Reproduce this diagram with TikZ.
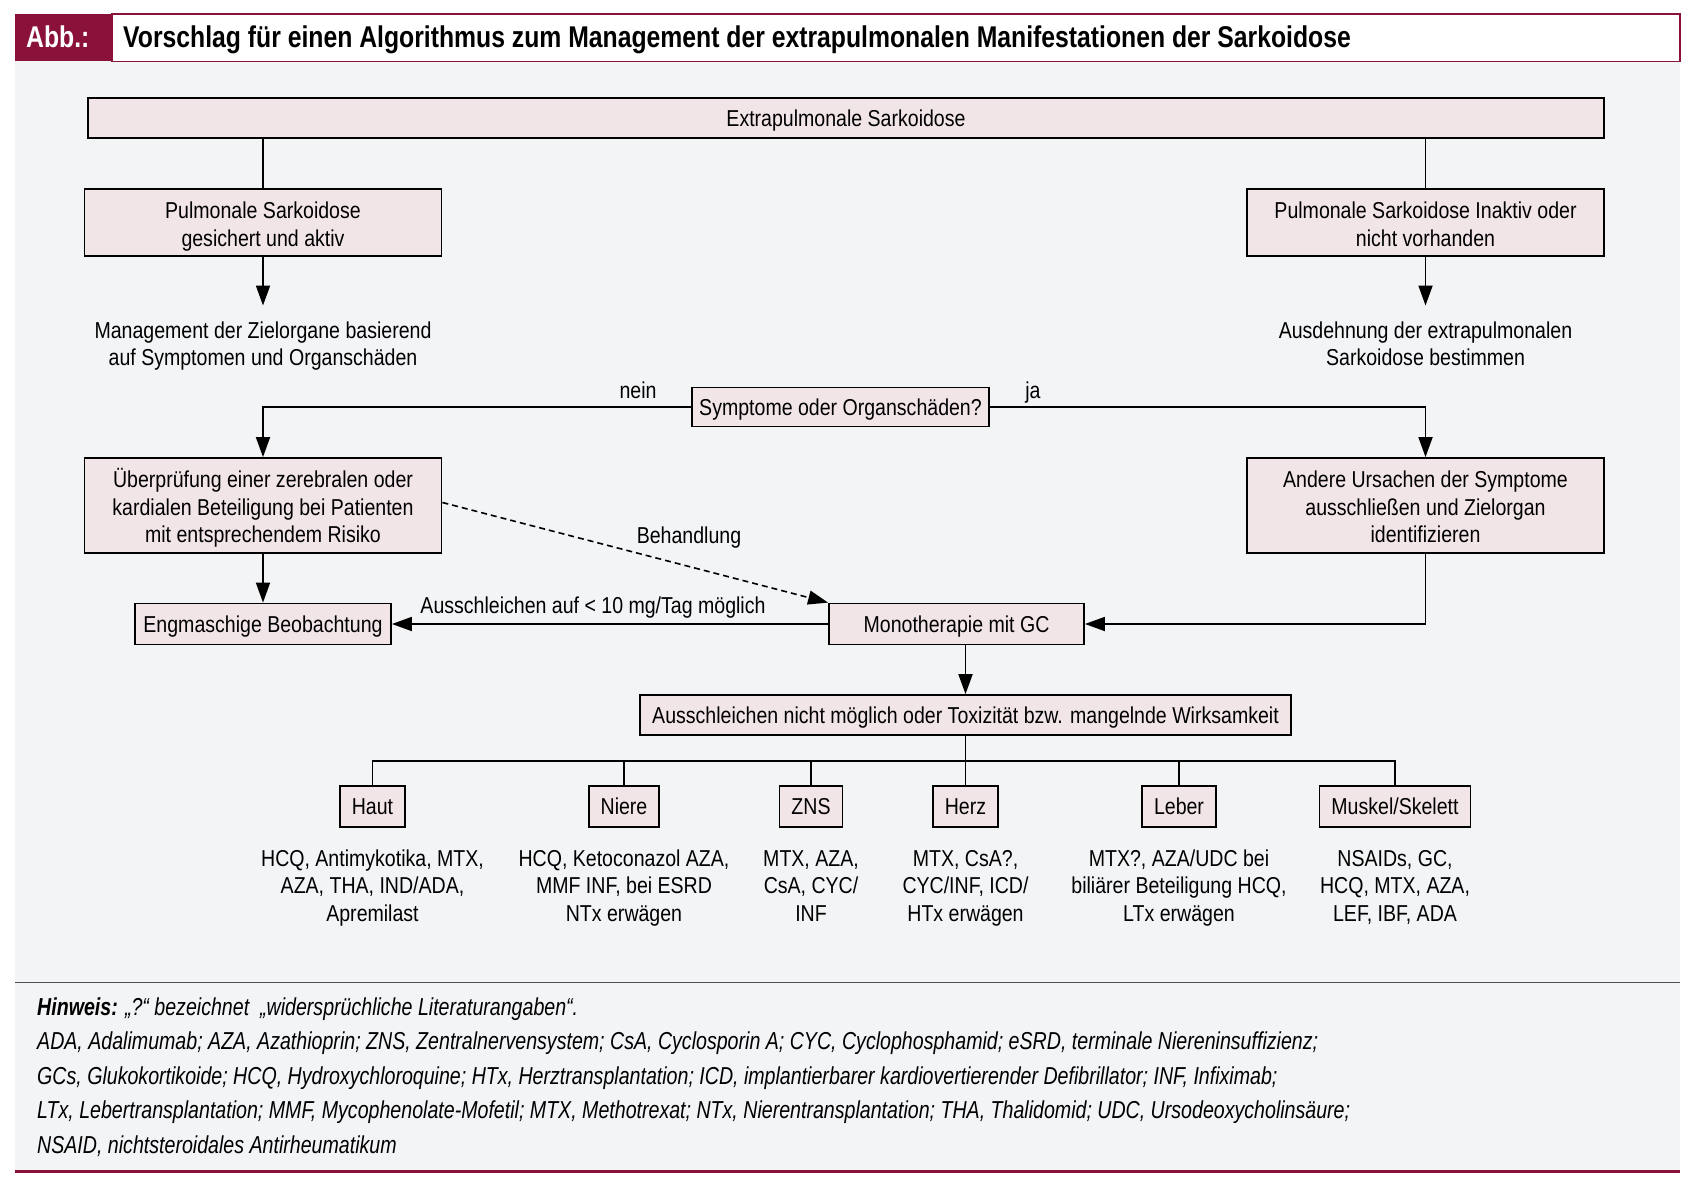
\documentclass[tikz,border=0pt]{standalone}
\usepackage{fontspec}
\setmainfont{Liberation Sans}[FakeStretch=0.85]
\newfontfamily\titlefont{Liberation Sans}[FakeStretch=0.825]
\newfontfamily\notefont{Liberation Sans}[FakeStretch=0.80]
\usetikzlibrary{arrows.meta}
\definecolor{bgray}{RGB}{243,244,246}
\definecolor{boxfill}{RGB}{242,229,232}
\definecolor{abbred}{RGB}{138,18,58}
\definecolor{seplin}{RGB}{80,80,80}
\newcommand{\mainfs}{\fontsize{23}{27.5}\selectfont}
\newcommand{\notefs}{\notefont\fontsize{24.5}{34.4}\selectfont\itshape}
\newcommand{\sx}{\rule[-4.8pt]{0pt}{26.1pt}}
\newcommand{\sxa}{\rule{0pt}{24.3pt}}
\tikzset{
  box/.style={draw=black, line width=1.8pt, fill=boxfill, align=center, inner sep=0pt, font=\mainfs,
    execute at begin node=\sx},
  obox/.style={draw=black, line width=1.8pt, fill=boxfill, align=center, inner xsep=12pt, inner ysep=0pt, minimum height=41pt, font=\mainfs,
    execute at begin node=\sx},
  txt/.style={align=center, inner sep=0pt, font=\mainfs, execute at begin node=\sx},
  conn/.style={line width=1.8pt},
  arr/.style={conn, -{Triangle[length=20pt,width=14pt]}},
  notel/.style={anchor=base west, inner sep=0pt, font=\notefs}
}
\begin{document}
\begin{tikzpicture}[x=1pt,y=-1pt]
\useasboundingbox (0,0) rectangle (1693,1188);
% background and header
\fill[bgray] (15,61.5) rectangle (1680,1171.5);
\fill[abbred] (15,14) rectangle (112,61.5);
\draw[abbred, line width=1.2pt, fill=white] (112,14) rectangle (1680,61.5);
\draw[seplin, line width=1.5pt] (15,982.5) -- (1680,982.5);
\draw[abbred, line width=3pt] (15,1171.5) -- (1680,1171.5);
\node[anchor=base west, inner sep=0pt, text=white, font=\titlefont\bfseries\fontsize{30}{34}\selectfont] (abb) at (26,48) {Abb.:};
\node[anchor=base west, inner sep=0pt, font=\titlefont\bfseries\fontsize{30}{34}\selectfont] (title) at (123,48) {Vorschlag für einen Algorithmus zum Management der extrapulmonalen Manifestationen der Sarkoidose};
% nodes
\node[box, minimum width=1516pt, minimum height=40pt] (top) at (846,118) {Extrapulmonale Sarkoidose};
\node[box, minimum width=357pt, minimum height=67pt] (pa) at (263,222.5) {\sxa Pulmonale Sarkoidose\\gesichert und aktiv\sx};
\node[box, minimum width=357pt, minimum height=67pt] (pi) at (1425.5,222.5) {\sxa Pulmonale Sarkoidose Inaktiv oder\\nicht vorhanden\sx};
\node[txt] (mgmt) at (263,342) {\sxa Management der Zielorgane basierend\\auf Symptomen und Organschäden\sx};
\node[txt] (ausd) at (1425.5,342) {\sxa Ausdehnung der extrapulmonalen\\Sarkoidose bestimmen\sx};
\coordinate (mgmtin) at (263,305.5);
\coordinate (ausdin) at (1425.5,305.5);
\node[box, minimum width=297pt, minimum height=39pt] (symp) at (840.5,407) {Symptome oder Organschäden?};
\node[txt] (nein) at (638,390) {nein};
\node[txt] (ja) at (1033,390) {ja};
\node[box, minimum width=357pt, minimum height=95pt] (uber) at (263,505.5) {\sxa Überprüfung einer zerebralen oder\\kardialen Beteiligung bei Patienten\\mit entsprechendem Risiko\sx};
\node[box, minimum width=357pt, minimum height=95pt] (andere) at (1425.5,505.5) {\sxa Andere Ursachen der Symptome\\ausschließen und Zielorgan\\identifizieren\sx};
\node[box, minimum width=256pt, minimum height=41pt] (eng) at (263,624) {Engmaschige Beobachtung};
\node[box, minimum width=255pt, minimum height=41pt] (mono) at (956.5,624) {Monotherapie mit GC};
\node[txt] (behand) at (689,535.5) {Behandlung};
\node[txt] (ausl) at (593,605) {Ausschleichen auf < 10 mg/Tag möglich};
\node[box, minimum width=651pt, minimum height=40pt] (ausch) at (965.5,715) {Ausschleichen nicht möglich oder Toxizität bzw. mangelnde Wirksamkeit};
\coordinate (bus) at (965.5,761);
\node[obox] (haut) at (372.5,806.5) {Haut};
\node[obox] (niere) at (624,806.5) {Niere};
\node[obox] (zns) at (811,806.5) {ZNS};
\node[obox] (herz) at (965.5,806.5) {Herz};
\node[obox] (leber) at (1179,806.5) {Leber};
\node[obox] (musk) at (1395,806.5) {Muskel/Skelett};
\node[txt] (dhaut) at (372.5,884) {\sxa HCQ, Antimykotika, MTX,\\AZA, THA, IND/ADA,\\Apremilast\sx};
\node[txt] (dniere) at (624,884) {\sxa HCQ, Ketoconazol AZA,\\MMF INF, bei ESRD\\NTx erwägen\sx};
\node[txt] (dzns) at (811,884) {\sxa MTX, AZA,\\CsA, CYC/\\INF\sx};
\node[txt] (dherz) at (965.5,884) {\sxa MTX, CsA?,\\CYC/INF, ICD/\\HTx erwägen\sx};
\node[txt] (dleber) at (1179,884) {\sxa MTX?, AZA/UDC bei\\biliärer Beteiligung HCQ,\\LTx erwägen\sx};
\node[txt] (dmusk) at (1395,884) {\sxa NSAIDs, GC,\\HCQ, MTX, AZA,\\LEF, IBF, ADA\sx};
% connectors
\draw[conn] (top.south -| pa.north) -- (pa.north);
\draw[conn] (top.south -| pi.north) -- (pi.north);
\draw[arr] (pa.south) -- (mgmtin);
\draw[arr] (pi.south) -- (ausdin);
\draw[arr] (symp.west) -- (symp.west -| uber.north) -- (uber.north);
\draw[arr] (symp.east) -- (symp.east -| andere.north) -- (andere.north);
\draw[arr] (uber.south) -- (eng.north);
\draw[arr] (mono.west) -- (eng.east);
\draw[arr] (andere.south) |- (mono.east);
\draw[arr, line width=1.6pt, dash pattern=on 6pt off 4pt] ([yshift=3pt]uber.east) -- (mono.north west);
\draw[arr] (mono.south -| ausch.north) -- (ausch.north);
\draw[conn] (ausch.south) -- (bus);
\draw[conn] (haut.north) -- (haut.north |- bus) -- (musk.north |- bus) -- (musk.north);
\draw[conn] (niere.north) -- (niere.north |- bus);
\draw[conn] (zns.north) -- (zns.north |- bus);
\draw[conn] (herz.north) -- (herz.north |- bus);
\draw[conn] (leber.north) -- (leber.north |- bus);
% footnote
\node[notel] (n1) at (37,1015.5) {\textbf{Hinweis:} „?“ bezeichnet\ \ „widersprüchliche Literaturangaben“.};
\node[notel] (n2) at (37,1049.9) {ADA, Adalimumab; AZA, Azathioprin; ZNS, Zentralnervensystem; CsA, Cyclosporin A; CYC, Cyclophosphamid; eSRD, terminale Niereninsuffizienz;};
\node[notel] (n3) at (37,1084.3) {GCs, Glukokortikoide; HCQ, Hydroxychloroquine; HTx, Herztransplantation; ICD, implantierbarer kardiovertierender Defibrillator; INF, Infiximab;};
\node[notel] (n4) at (37,1118.7) {LTx, Lebertransplantation; MMF, Mycophenolate-Mofetil; MTX, Methotrexat; NTx, Nierentransplantation; THA, Thalidomid; UDC, Ursodeoxycholinsäure;};
\node[notel] (n5) at (37,1153.1) {NSAID, nichtsteroidales Antirheumatikum};
\end{tikzpicture}
\end{document}
